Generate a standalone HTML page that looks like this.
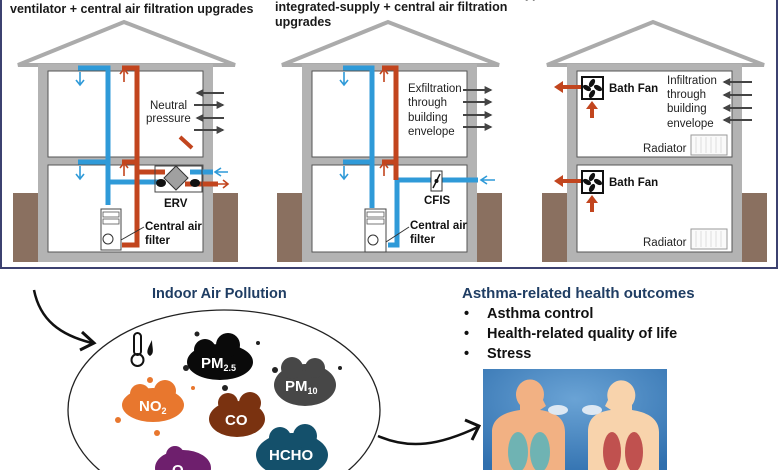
<!DOCTYPE html>
<html><head><meta charset="utf-8"><style>
html,body{margin:0;padding:0;background:#fff;width:780px;height:470px;overflow:hidden;}
svg{display:block;font-family:"Liberation Sans",sans-serif;}
.t{font-weight:bold;font-size:12.5px;fill:#1a1a1a;}
.s{font-size:11.5px;fill:#222;}
.sb{font-size:11.5px;fill:#111;font-weight:bold;}
</style></head><body>
<svg width="780" height="470" viewBox="0 0 780 470" xmlns="http://www.w3.org/2000/svg">
<defs>
<marker id="ag" viewBox="0 0 10 10" refX="8" refY="5" markerWidth="4" markerHeight="4" orient="auto"><path d="M0,0 L10,5 L0,10 z" fill="#444"/></marker>
<g id="house">
  <polygon points="18,65 124,22 235,65" fill="#fff" stroke="#ababab" stroke-width="4"/>
  <rect x="13" y="193" width="27" height="69" fill="#8a7060"/>
  <rect x="212" y="193" width="26" height="69" fill="#8a7060"/>
  <rect x="38" y="64" width="175" height="198" fill="#b3b3b3"/>
  <rect x="48" y="71" width="155" height="86" fill="#fff" stroke="#555" stroke-width="1"/>
  <rect x="48" y="165" width="155" height="87" fill="#fff" stroke="#555" stroke-width="1"/>
</g>
</defs>
<rect x="1" y="-2" width="776" height="270" fill="#fff" stroke="#3c4170" stroke-width="2"/>
<text class="t" x="10" y="13">ventilator + central air filtration upgrades</text>
<text class="t" x="275" y="11">integrated-supply + central air filtration</text>
<text class="t" x="275" y="26">upgrades</text>
<text class="t" x="525" y="-2">ypical</text>

<!-- House 1 -->
<use href="#house"/>
<g fill="none" stroke-width="5">
  <path d="M78,68 H108 V205" stroke="#2f9ad8"/>
  <path d="M78,162 H108" stroke="#2f9ad8"/>
  <path d="M108,182 H162" stroke="#2f9ad8"/>
  <path d="M190,172 H213" stroke="#2f9ad8"/>
  <path d="M122,68 H137 V245 H122" stroke="#c2451e"/>
  <path d="M122,162 H137" stroke="#c2451e"/>
  <path d="M137,172 H165" stroke="#c2451e"/>
  <path d="M185,184 H218" stroke="#c2451e"/>
</g>
<g fill="none" stroke-width="1.6">
  <path d="M80,72 V84 M76,80 L80,85 L84,80" stroke="#2f9ad8"/>
  <path d="M80,166 V178 M76,174 L80,179 L84,174" stroke="#2f9ad8"/>
  <path d="M228,172 H216 M221,168 L215,172 L221,176" stroke="#2f9ad8"/>
  <path d="M124,82 V70 M120,74 L124,69 L128,74" stroke="#c2451e"/>
  <path d="M124,176 V164 M120,168 L124,163 L128,168" stroke="#c2451e"/>
  <path d="M215,184 H228 M223,180 L228,184 L223,188" stroke="#c2451e"/>
</g>
<rect x="155" y="166" width="47" height="26" fill="none" stroke="#444" stroke-width="1"/>
<polygon points="176,166 188,178 176,190 164,178" fill="#a0a0a0" stroke="#333" stroke-width="1"/>
<ellipse cx="161" cy="183" rx="5" ry="4" fill="#111"/>
<ellipse cx="195" cy="183" rx="5" ry="4" fill="#111"/>
<text class="sb" x="164" y="207">ERV</text>
<rect x="101" y="209" width="20" height="41" fill="#fff" stroke="#444"/>
<rect x="103" y="212" width="16" height="5" fill="#fff" stroke="#555" stroke-width="0.8"/>
<rect x="103" y="219" width="16" height="5" fill="#fff" stroke="#555" stroke-width="0.8"/>
<circle cx="108" cy="239" r="5" fill="none" stroke="#333"/>
<path d="M121,240 L144,227" stroke="#333"/>
<text class="sb" x="145" y="230">Central air</text>
<text class="sb" x="145" y="244">filter</text>
<text class="s" x="150" y="109">Neutral</text>
<text class="s" x="146" y="122">pressure</text>
<g stroke="#444" stroke-width="2" marker-end="url(#ag)">
  <line x1="224" y1="93" x2="197" y2="93"/><line x1="194" y1="105" x2="223" y2="105"/>
  <line x1="224" y1="118" x2="197" y2="118"/><line x1="194" y1="130" x2="223" y2="130"/>
</g>
<line x1="180" y1="137" x2="192" y2="148" stroke="#c2451e" stroke-width="4"/>

<!-- House 2 -->
<use href="#house" x="264"/>
<g fill="none" stroke-width="5">
  <path d="M343,68 H372 V208" stroke="#2f9ad8"/>
  <path d="M343,162 H372" stroke="#2f9ad8"/>
  <path d="M478,180 H397 V245 H388" stroke="#2f9ad8"/>
  <path d="M382,68 H396 V180" stroke="#c2451e"/>
  <path d="M382,162 H396" stroke="#c2451e"/>
</g>
<g fill="none" stroke-width="1.6">
  <path d="M344,72 V84 M340,80 L344,85 L348,80" stroke="#2f9ad8"/>
  <path d="M344,166 V178 M340,174 L344,179 L348,174" stroke="#2f9ad8"/>
  <path d="M495,180 H482 M487,176 L481,180 L487,184" stroke="#2f9ad8"/>
  <path d="M384,82 V70 M380,74 L384,69 L388,74" stroke="#c2451e"/>
  <path d="M384,176 V164 M380,168 L384,163 L388,168" stroke="#c2451e"/>
</g>
<rect x="431" y="171" width="11" height="20" fill="#fff" stroke="#333"/>
<line x1="433" y1="188" x2="440" y2="174" stroke="#111" stroke-width="1.5"/>
<circle cx="436.5" cy="181" r="2" fill="#111"/>
<text class="sb" x="424" y="204">CFIS</text>
<rect x="365" y="209" width="21" height="43" fill="#fff" stroke="#444"/>
<rect x="367" y="212" width="17" height="5" fill="#fff" stroke="#555" stroke-width="0.8"/>
<rect x="367" y="219" width="17" height="5" fill="#fff" stroke="#555" stroke-width="0.8"/>
<circle cx="373" cy="240" r="5" fill="none" stroke="#333"/>
<path d="M386,242 L409,227" stroke="#333"/>
<text class="sb" x="410" y="229">Central air</text>
<text class="sb" x="410" y="243">filter</text>
<text class="s" x="408" y="92">Exfiltration</text>
<text class="s" x="408" y="106">through</text>
<text class="s" x="408" y="121">building</text>
<text class="s" x="408" y="135">envelope</text>
<g stroke="#444" stroke-width="2" marker-end="url(#ag)">
  <line x1="463" y1="90" x2="491" y2="90"/><line x1="463" y1="102" x2="491" y2="102"/>
  <line x1="463" y1="115" x2="491" y2="115"/><line x1="463" y1="127" x2="491" y2="127"/>
</g>

<!-- House 3 -->
<use href="#house" x="529"/>
<g id="fan">
  <rect x="582" y="77" width="21" height="22" fill="#fff" stroke="#111" stroke-width="2"/>
  <g fill="#111"><ellipse cx="592" cy="83" rx="2.5" ry="4.5" transform="rotate(30 592 83)"/>
  <ellipse cx="598" cy="88" rx="2.5" ry="4.5" transform="rotate(120 598 88)"/>
  <ellipse cx="592" cy="94" rx="2.5" ry="4.5" transform="rotate(30 592 94)"/>
  <ellipse cx="587" cy="88" rx="2.5" ry="4.5" transform="rotate(120 587 88)"/></g>
  <path d="M581,87 H563" stroke="#c2451e" stroke-width="4"/>
  <polygon points="554,87 563,81 563,93" fill="#c2451e"/>
  <path d="M592,118 V108" stroke="#c2451e" stroke-width="4"/>
  <polygon points="592,101 586,109 598,109" fill="#c2451e"/>
</g>
<use href="#fan" y="94"/>
<text class="sb" x="609" y="92">Bath Fan</text>
<text class="sb" x="609" y="186">Bath Fan</text>
<text class="s" x="667" y="84">Infiltration</text>
<text class="s" x="667" y="98">through</text>
<text class="s" x="667" y="112">building</text>
<text class="s" x="667" y="127">envelope</text>
<g stroke="#444" stroke-width="2" marker-end="url(#ag)">
  <line x1="752" y1="82" x2="724" y2="82"/><line x1="752" y1="95" x2="724" y2="95"/>
  <line x1="752" y1="108" x2="724" y2="108"/><line x1="752" y1="120" x2="724" y2="120"/>
</g>
<g id="rad"><rect x="691" y="135" width="36" height="20" fill="#fafafa" stroke="#999"/>
<path d="M696,137V153M701,137V153M706,137V153M711,137V153M716,137V153M721,137V153" stroke="#ddd"/></g>
<use href="#rad" y="94"/>
<text class="s" x="643" y="152">Radiator</text>
<text class="s" x="643" y="246">Radiator</text>

<!-- Bottom -->
<path d="M34,290 C40,320 60,335 92,343" fill="none" stroke="#111" stroke-width="2.5"/>
<path d="M82,332 L94,343 L80,350" fill="none" stroke="#111" stroke-width="3"/>
<text x="152" y="298" style="font-size:14.5px;font-weight:bold;fill:#1f3d63">Indoor Air Pollution</text>
<ellipse cx="224" cy="410" rx="156" ry="100" fill="#fff" stroke="#222" stroke-width="1.3"/>
<path d="M378,436 C410,450 440,445 478,427" fill="none" stroke="#111" stroke-width="2.5"/>
<path d="M465,420 L479,426 L472,440" fill="none" stroke="#111" stroke-width="3"/>
<rect x="134" y="333" width="7" height="22" rx="3.5" fill="none" stroke="#111" stroke-width="2"/>
<circle cx="137.5" cy="360" r="6" fill="none" stroke="#111" stroke-width="2"/>
<path d="M152,340 C148,348 145,353 150,356 C155,353 152,348 152,340z" fill="#111"/>
<g>
 <ellipse cx="220" cy="362" rx="33" ry="18" fill="#0a0a0a"/><circle cx="205" cy="350" r="11" fill="#0a0a0a"/><circle cx="228" cy="345" r="12" fill="#0a0a0a"/>
 <ellipse cx="305" cy="385" rx="31" ry="21" fill="#474747"/><circle cx="292" cy="368" r="11" fill="#474747"/><circle cx="315" cy="368" r="10" fill="#474747"/>
 <ellipse cx="153" cy="405" rx="31" ry="17" fill="#e8772e"/><circle cx="140" cy="394" r="10" fill="#e8772e"/><circle cx="165" cy="391" r="11" fill="#e8772e"/>
 <ellipse cx="237" cy="419" rx="28" ry="18" fill="#7a3210"/><circle cx="228" cy="403" r="10" fill="#7a3210"/><circle cx="250" cy="403" r="11" fill="#7a3210"/>
 <ellipse cx="292" cy="455" rx="36" ry="22" fill="#14506b"/><circle cx="280" cy="438" r="11" fill="#14506b"/><circle cx="305" cy="436" r="12" fill="#14506b"/>
 <ellipse cx="183" cy="468" rx="28" ry="18" fill="#6e1f6d"/><circle cx="175" cy="455" r="9" fill="#6e1f6d"/>
 <g fill="#222"><circle cx="197" cy="334" r="2.5"/><circle cx="258" cy="343" r="2"/><circle cx="186" cy="368" r="3"/><circle cx="225" cy="388" r="3"/><circle cx="275" cy="370" r="3"/><circle cx="340" cy="368" r="2"/></g>
 <g fill="#e8772e"><circle cx="150" cy="380" r="3"/><circle cx="193" cy="388" r="2"/><circle cx="118" cy="420" r="3"/><circle cx="157" cy="433" r="3"/></g>
</g>
<g fill="#fff" font-weight="bold" font-size="15">
 <text x="201" y="368">PM<tspan font-size="9" dy="3">2.5</tspan></text>
 <text x="285" y="391">PM<tspan font-size="9" dy="3">10</tspan></text>
 <text x="139" y="411">NO<tspan font-size="9" dy="3">2</tspan></text>
 <text x="225" y="425">CO</text>
 <text x="269" y="460">HCHO</text>
 <text x="172" y="475">O<tspan font-size="9" dy="3">3</tspan></text>
</g>
<text x="462" y="298" style="font-size:15px;font-weight:bold;fill:#1f3d63">Asthma-related health outcomes</text>
<g style="font-size:14.5px;font-weight:bold;fill:#111">
 <text x="464" y="318">•</text><text x="487" y="318">Asthma control</text>
 <text x="464" y="338">•</text><text x="487" y="338">Health-related quality of life</text>
 <text x="464" y="358">•</text><text x="487" y="358">Stress</text>
</g>
<defs><radialGradient id="bg" cx="0.5" cy="0.3" r="0.8"><stop offset="0" stop-color="#6aa3d5"/><stop offset="1" stop-color="#2f6fae"/></radialGradient></defs>
<rect x="483" y="369" width="184" height="101" fill="url(#bg)"/>
<path d="M492,470 V432 C492,418 505,412 520,410 V405 A14,15 0 1 1 543,400 L546,406 L540,410 C555,412 565,418 565,432 V470z" fill="#f2b183"/>
<path d="M659,470 V432 C659,418 646,412 632,410 V405 A14,15 0 1 0 608,400 L605,406 L611,410 C596,412 588,418 588,432 V470z" fill="#f8d3ac"/>
<ellipse cx="518" cy="452" rx="10" ry="20" fill="#6fb3b3"/><ellipse cx="540" cy="452" rx="10" ry="20" fill="#6fb3b3"/>
<ellipse cx="612" cy="452" rx="9" ry="20" fill="#c0514f"/><ellipse cx="634" cy="452" rx="9" ry="20" fill="#c0514f"/>
<ellipse cx="558" cy="410" rx="10" ry="5" fill="#dde8f3"/><ellipse cx="592" cy="410" rx="10" ry="5" fill="#dde8f3"/>
</svg>
</body></html>
